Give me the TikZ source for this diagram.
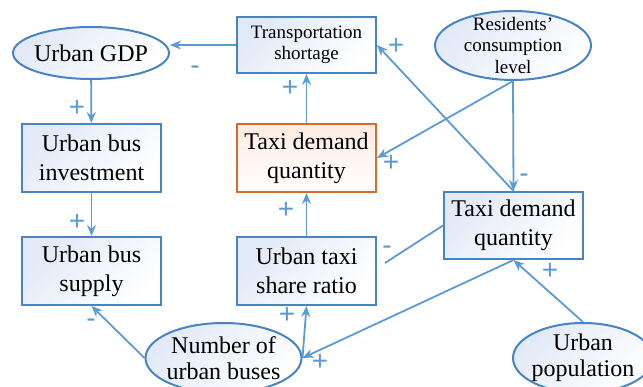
\documentclass[tikz,border=0pt]{standalone}
\usepackage{fontspec}
\setmainfont{Liberation Serif}
\newfontfamily\signfont{Liberation Sans}
\usetikzlibrary{arrows.meta, shapes.geometric}

\definecolor{linkblue}{RGB}{91,155,213}
\definecolor{edgeblue}{RGB}{72,132,196}
\definecolor{paleblue}{RGB}{226,233,247}
\definecolor{rust}{RGB}{214,108,44}
\definecolor{palerust}{RGB}{253,236,226}

\begin{document}
\begin{tikzpicture}[x=1pt, y=-1pt,
    box/.style = {draw=edgeblue, line width=2pt, rectangle, minimum width=139pt, minimum height=68pt, inner sep=0pt, align=center, top color=paleblue, bottom color=white, shading angle=45, font=\fontsize{24}{29}\selectfont},
    hotbox/.style = {box, draw=rust, top color=palerust},
    oval/.style = {draw=edgeblue, line width=2pt, ellipse, minimum width=156pt, minimum height=70pt, inner sep=-20pt, align=center, top color=paleblue, bottom color=white, shading angle=45, font=\fontsize{24}{26}\selectfont},
    small/.style = {font=\fontsize{19}{21.5}\selectfont},
    arr/.style = {draw=linkblue, line width=1.8pt, -{Stealth[length=11pt, width=9pt]}},
    sgn/.style = {text=linkblue, font=\signfont\fontsize{28}{28}\selectfont, inner sep=0pt}]
    \useasboundingbox (0,0) rectangle (643,387);
    \clip (0,0) rectangle (643,387);
    % left column
    \node[oval, minimum height=52pt] (gdp) at (91,53) {Urban GDP};
    \node[box] (invest) at (91.5,158) {Urban bus\\investment};
    \node[box] (supply) at (91.5,271) {Urban bus\\supply};
    % middle column
    \node[box, small, minimum height=56pt] (short) at (306.5,45) {Transportation\\shortage};
    \node[hotbox] (taxi) at (306.5,158) {Taxi demand\\quantity};
    \node[box] (share) at (306.5,271) {Urban taxi\\share ratio};
    \node[oval] (buses) at (223.5,358) {Number of\\urban buses};
    % right column
    \node[oval, small, minimum height=69pt] (income) at (513,45.5) {Residents'\\consumption\\level};
    \node[box, minimum height=67pt] (demand) at (513.5,225.5) {Taxi demand\\quantity};
    \node[oval, minimum width=140pt] (people) at (583,358) {Urban\\population};
    \coordinate (cut) at (385,263);

    \draw[arr] (short.west) -- (gdp.east |- short.west);
    \draw[arr] (gdp) -- (invest);
    \draw[arr] (invest) -- (supply);
    \draw[arr] (taxi) -- (short);
    \draw[arr] (share) -- (taxi);
    \draw[arr] (income.south) -- (taxi.east);
    \draw[arr] (income.south) -- (demand.north);
    \draw[arr] (demand.north) -- (short.east);
    \draw[draw=linkblue, line width=1.8pt] (demand.west) -- (cut);
    \draw[arr] (demand.south) -- (buses.east);
    \draw[arr] (buses.east) -- (share.south);
    \draw[arr] (buses.west) -- (supply.south);
    \draw[arr] (people.north) -- (demand.south);

    % polarity signs
    \node[sgn] (s1) at (195,70) {-};
    \node[sgn] (s2) at (77,108) {+};
    \node[sgn] (s3) at (77,222) {+};
    \node[sgn] (s4) at (290,88) {+};
    \node[sgn] (s5) at (286,210) {+};
    \node[sgn] (s6) at (391,163) {+};
    \node[sgn] (s7) at (524,178) {-};
    \node[sgn] (s8) at (396,46) {+};
    \node[sgn] (s9) at (387,250) {-};
    \node[sgn] (s10) at (320,362) {+};
    \node[sgn] (s11) at (287,315) {+};
    \node[sgn] (s12) at (91,323) {-};
    \node[sgn] (s13) at (550,271) {+};
\end{tikzpicture}
\end{document}
